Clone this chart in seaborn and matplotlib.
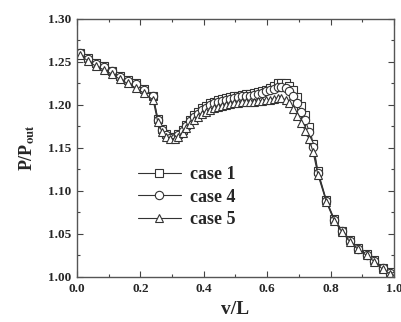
import numpy as np
import pandas as pd
import matplotlib
matplotlib.use('Agg')
import matplotlib.pyplot as plt
from matplotlib.ticker import MultipleLocator, FormatStrFormatter
import seaborn as sns

# 数据
x_pos = [0.010, 0.035, 0.060, 0.085, 0.110, 0.135, 0.160, 0.185, 0.210, 0.240,
         0.255, 0.268, 0.282, 0.295, 0.308, 0.320, 0.333, 0.345, 0.358, 0.370,
         0.383, 0.395, 0.408, 0.420, 0.433, 0.445, 0.458, 0.470, 0.483, 0.495,
         0.508, 0.520, 0.533, 0.545, 0.558, 0.570, 0.583, 0.595, 0.608, 0.620,
         0.633, 0.645, 0.658, 0.670, 0.683, 0.695, 0.708, 0.720, 0.733, 0.745,
         0.760, 0.787, 0.812, 0.837, 0.861, 0.887, 0.914, 0.938, 0.964, 0.987,
         1.000]

case1 = [1.261, 1.255, 1.249, 1.245, 1.240, 1.234, 1.229, 1.225, 1.219, 1.211,
         1.184, 1.172, 1.166, 1.163, 1.163, 1.166, 1.171, 1.177, 1.183, 1.188,
         1.192, 1.196, 1.199, 1.202, 1.204, 1.206, 1.207, 1.208, 1.209, 1.210,
         1.211, 1.212, 1.213, 1.213, 1.214, 1.215, 1.216, 1.218, 1.220, 1.222,
         1.225, 1.226, 1.225, 1.222, 1.217, 1.209, 1.199, 1.188, 1.174, 1.155,
         1.123, 1.089, 1.067, 1.054, 1.043, 1.034, 1.027, 1.020, 1.011, 1.006,
         1.002]

case4 = [1.260, 1.254, 1.248, 1.244, 1.239, 1.233, 1.228, 1.224, 1.218, 1.210,
         1.183, 1.171, 1.165, 1.162, 1.162, 1.165, 1.170, 1.176, 1.181, 1.186,
         1.190, 1.194, 1.197, 1.200, 1.202, 1.204, 1.205, 1.206, 1.207, 1.208,
         1.209, 1.210, 1.211, 1.211, 1.212, 1.213, 1.214, 1.216, 1.217, 1.219,
         1.221, 1.221, 1.220, 1.216, 1.210, 1.202, 1.192, 1.182, 1.169, 1.151,
         1.121, 1.088, 1.066, 1.053, 1.042, 1.033, 1.026, 1.019, 1.010, 1.005,
         1.001]

case5 = [1.258, 1.251, 1.245, 1.241, 1.236, 1.230, 1.225, 1.220, 1.214, 1.206,
         1.180, 1.169, 1.163, 1.161, 1.161, 1.163, 1.168, 1.173, 1.178, 1.182,
         1.186, 1.189, 1.192, 1.194, 1.196, 1.198, 1.199, 1.200, 1.201, 1.202,
         1.202, 1.203, 1.203, 1.204, 1.204, 1.205, 1.205, 1.206, 1.206, 1.207,
         1.208, 1.208, 1.206, 1.202, 1.195, 1.187, 1.179, 1.170, 1.160, 1.145,
         1.119, 1.087, 1.065, 1.052, 1.041, 1.032, 1.025, 1.018, 1.009, 1.004,
         1.000]

series_names = ['case 1', 'case 4', 'case 5']
series_markers = ['s', 'o', '^']

sns.set_style('ticks')
plt.rcParams['font.family'] = ['Liberation Serif', 'DejaVu Serif']
plt.rcParams['mathtext.fontset'] = 'stix'

fig = plt.figure(figsize=(4.02, 3.22), dpi=100)
ax = fig.add_axes([0.1915, 0.1398, 0.7885, 0.8012])

for name, ys, mk in zip(series_names, [case1, case4, case5], series_markers):
    sns.lineplot(x=x_pos, y=ys, ax=ax, label=name, color='#333333', linewidth=0.8,
                 marker=mk, markersize=6, markerfacecolor='white',
                 markeredgecolor='#333333', markeredgewidth=0.8)

ax.set_xlim(0.0, 1.0)
ax.set_ylim(1.00, 1.30)
ax.xaxis.set_major_locator(MultipleLocator(0.2))
ax.xaxis.set_minor_locator(MultipleLocator(0.1))
ax.yaxis.set_major_locator(MultipleLocator(0.05))
ax.yaxis.set_minor_locator(MultipleLocator(0.025))
ax.xaxis.set_major_formatter(FormatStrFormatter('%.1f'))
ax.yaxis.set_major_formatter(FormatStrFormatter('%.2f'))
ax.tick_params(which='both', direction='in', top=True, right=True,
               color='#444444', width=0.8)
ax.tick_params(which='major', length=4, labelsize=9.5, pad=4)
ax.tick_params(which='minor', length=2)
for lab in ax.get_xticklabels() + ax.get_yticklabels():
    lab.set_fontweight('bold')
for sp in ax.spines.values():
    sp.set_color('#555555')
    sp.set_linewidth(1.0)

ax.set_xlabel('v/L', fontsize=14, fontweight='bold', labelpad=5)
ax.set_ylabel(r'P/P$_{\mathbf{out}}$', fontsize=13, fontweight='bold', labelpad=8)

leg = ax.legend(loc='center left', bbox_to_anchor=(0.14, 0.31), frameon=False,
                handlelength=2.4, labelspacing=0.3, handletextpad=0.5,
                prop={'size': 13, 'weight': 'bold'})

fig.savefig('out.png', dpi=100)
